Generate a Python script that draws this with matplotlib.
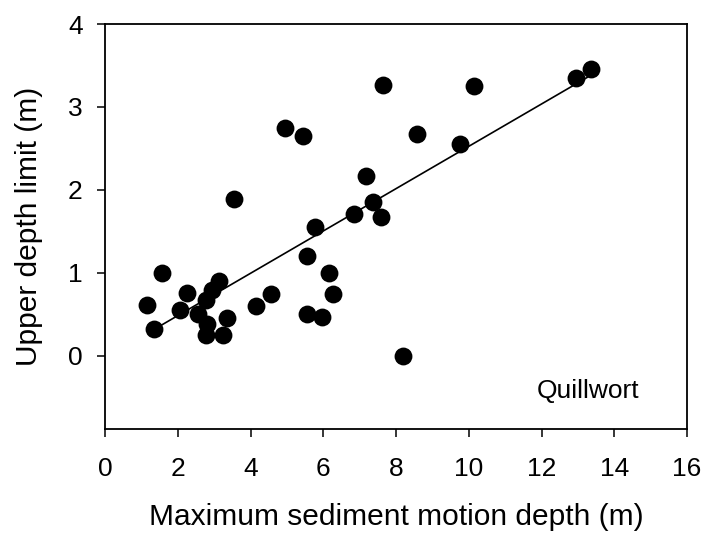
import matplotlib
matplotlib.use("Agg")
import matplotlib.pyplot as plt
import numpy as np

plt.rcParams['font.family'] = ['Liberation Sans', 'DejaVu Sans']

# Data
sediment_depth = [1.16, 1.36, 1.56, 2.06, 2.26, 2.55, 2.80, 2.78, 2.78, 2.93, 3.14,
                  3.25, 3.35, 3.56, 4.15, 4.56, 4.95, 5.45, 5.55, 5.56, 5.77, 5.97,
                  6.17, 6.26, 6.85, 7.17, 7.38, 7.58, 7.65, 8.19, 8.57, 9.76, 10.15,
                  12.95, 13.36]
upper_depth = [0.62, 0.32, 1.00, 0.55, 0.76, 0.51, 0.39, 0.25, 0.67, 0.79, 0.90,
               0.25, 0.46, 1.89, 0.60, 0.75, 2.75, 2.65, 1.20, 0.50, 1.56, 0.47,
               1.00, 0.75, 1.71, 2.17, 1.86, 1.67, 3.27, 0.00, 2.67, 2.55, 3.25,
               3.35, 3.46]
fit_slope = 0.255
fit_intercept = -0.024
fit_range = [1.355, 13.36]
x_ticks = [0, 2, 4, 6, 8, 10, 12, 14, 16]
y_ticks = [0, 1, 2, 3, 4]

fig = plt.figure(figsize=(7.08, 5.35), dpi=100)
ax = fig.add_axes([105/708, 1-429/535, 582/708, 405/535])

ax.scatter(sediment_depth, upper_depth, s=165, color='black', zorder=3, linewidths=0)
fx = np.array(fit_range)
ax.plot(fx, fit_slope*fx + fit_intercept, color='black', lw=1.2, zorder=2)

ax.set_xlim(0, 16)
ax.set_ylim(-0.88, 4)
ax.set_xticks(x_ticks)
ax.set_yticks(y_ticks)
ax.tick_params(axis='both', direction='out', length=6, width=1.1, labelsize=19)
ax.tick_params(axis='x', pad=14)
ax.tick_params(axis='y', pad=10)
for s in ax.spines.values():
    s.set_linewidth(1.3)

ax.set_xlabel('Maximum sediment motion depth (m)', fontsize=21.5, labelpad=16)
ax.set_ylabel('Upper depth limit (m)', fontsize=21.5, labelpad=18)
ax.text(0.9175, 0.0765, 'Quillwort', transform=ax.transAxes, ha='right',
        va='baseline', fontsize=19)

fig.savefig('out.png', dpi=100)
